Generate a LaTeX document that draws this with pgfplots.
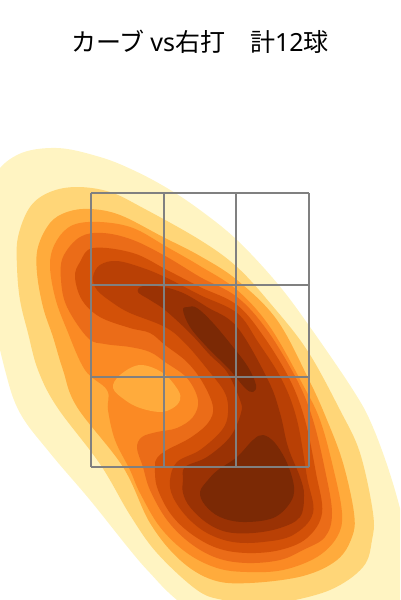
\documentclass[border=0pt]{standalone}
\usepackage{fontspec}
\setmainfont{Noto Sans CJK JP}
\newfontfamily\latinfont{Noto Sans}
\usepackage{pgfplots}
\pgfplotsset{compat=1.18}
\definecolor{lv1}{HTML}{FFF4C2}
\definecolor{lv2}{HTML}{FFD678}
\definecolor{lv3}{HTML}{FFAB3C}
\definecolor{lv4}{HTML}{FB8A24}
\definecolor{lv5}{HTML}{EB6C18}
\definecolor{lv6}{HTML}{D35108}
\definecolor{lv7}{HTML}{B94005}
\definecolor{lv8}{HTML}{9A3204}
\definecolor{lv9}{HTML}{7B2905}
\definecolor{zoneline}{HTML}{808080}
\pgfplotsset{
  band/.style={fill=#1, draw=none, smooth cycle, tension=0.6, forget plot},
  zone/.style={draw=zoneline, line width=1.7pt, forget plot},
}
\begin{document}
\begin{tikzpicture}
\useasboundingbox (0,0) rectangle (400pt,600pt);
\begin{axis}[
    at={(0,0)}, anchor=south west,
    scale only axis, width=400pt, height=600pt,
    xmin=0, xmax=400, ymin=0, ymax=600,
    y dir=reverse,
    hide axis,
    clip=true,
]
% contour bands, outermost first
\addplot[band=lv1] coordinates {(57,148)(100,157)(133,170)(167,188)(200,210)(237,240)(277,283)(310,327)(353,390)(372,425)(391,477)(405,530)(412,580)(380,625)(230,640)(177,600)(150,573)(130,550)(90,500)(50,453)(20,413)(5,370)(-10,300)(-15,240)(-8,182)(17,155)};
\addplot[band=lv2] coordinates {(77,187)(110,192)(143,208)(200,240)(237,267)(270,303)(307,350)(340,410)(360,453)(373,513)(372,540)(363,567)(330,590)(280,603)(255,604)(223,600)(197,590)(157,553)(130,515)(100,464)(57,407)(38,370)(28,333)(20,300)(17,267)(18,237)(30,207)(50,192)};
\addplot[band=lv3] coordinates {(90,209)(120,215)(163,237)(200,256)(237,280)(277,320)(309,380)(327,420)(343,463)(354,513)(352,537)(337,560)(303,576)(250,583)(213,580)(180,560)(150,523)(123,467)(77,407)(63,370)(53,337)(43,307)(37,273)(38,247)(50,223)(67,212)};
\addplot[band=lv4] coordinates {(100,222)(133,228)(167,247)(200,266)(237,290)(270,327)(303,385)(320,420)(333,467)(342,513)(337,537)(317,557)(283,570)(247,572)(217,568)(187,553)(160,527)(140,493)(130,470)(115,440)(108,410)(107,390)(85,370)(67,330)(55,297)(50,263)(57,240)(73,225)};
\addplot[band=lv3] coordinates {(140,365)(163,373)(178,390)(180,400)(173,408)(160,412)(140,408)(125,400)(113,388)(120,375)};
\addplot[band=lv5] coordinates {(103,233)(133,240)(167,257)(200,277)(237,297)(267,330)(297,380)(313,420)(325,470)(332,513)(325,537)(303,550)(280,560)(247,563)(217,558)(190,543)(167,520)(150,490)(143,467)(137,448)(142,437)(157,432)(177,428)(193,417)(198,400)(187,378)(165,362)(150,352)(130,347)(105,344)(88,338)(67,307)(61,280)(63,257)(80,237)};
\addplot[band=lv6] coordinates {(93,248)(133,253)(167,270)(200,287)(237,305)(264,337)(290,380)(305,420)(316,473)(322,513)(307,538)(280,550)(247,553)(217,548)(190,533)(170,513)(157,487)(155,467)(157,458)(167,450)(190,438)(208,423)(213,407)(203,383)(187,362)(165,345)(150,333)(130,328)(100,317)(82,300)(75,277)(80,262)};
\addplot[band=lv7] coordinates {(117,261)(143,268)(167,278)(200,295)(237,313)(258,342)(282,380)(297,420)(307,477)(313,513)(293,535)(263,542)(233,542)(207,533)(187,517)(173,497)(170,480)(177,462)(200,450)(222,430)(228,413)(225,393)(208,370)(185,343)(165,327)(130,313)(113,303)(97,290)(93,277)(100,265)};
\addplot[band=lv8] coordinates {(143,286)(163,287)(183,293)(207,307)(237,327)(268,380)(280,413)(288,447)(300,477)(304,495)(300,517)(280,528)(253,533)(227,532)(207,523)(190,507)(183,493)(183,480)(185,467)(207,457)(230,437)(241,413)(240,400)(227,372)(210,355)(190,333)(165,310)(150,300)(138,292)};
\addplot[band=lv9] coordinates {(183,310)(188,307)(197,308)(213,323)(233,347)(248,367)(256,385)(253,392)(245,388)(230,370)(207,347)(190,327)};
\addplot[band=lv9] coordinates {(263,435)(275,443)(287,463)(294,487)(290,503)(273,518)(243,522)(220,517)(205,505)(200,492)(208,480)(218,470)(237,457)(253,440)};
% strike zone
\addplot[zone] coordinates {(91,193)(91,466.7)};
\addplot[zone] coordinates {(164,193)(164,466.7)};
\addplot[zone] coordinates {(236,193)(236,466.7)};
\addplot[zone] coordinates {(308.7,193)(308.7,466.7)};
\addplot[zone] coordinates {(91,193)(308.7,193)};
\addplot[zone] coordinates {(91,285)(308.7,285)};
\addplot[zone] coordinates {(91,377)(308.7,377)};
\addplot[zone] coordinates {(91,466.7)(308.7,466.7)};
\node[anchor=center, font=\fontsize{25}{29}\selectfont, inner sep=0pt] at (axis cs:200,42) {カーブ {\latinfont vs}右打　計{\latinfont 12}球};
\end{axis}
\end{tikzpicture}
\end{document}
